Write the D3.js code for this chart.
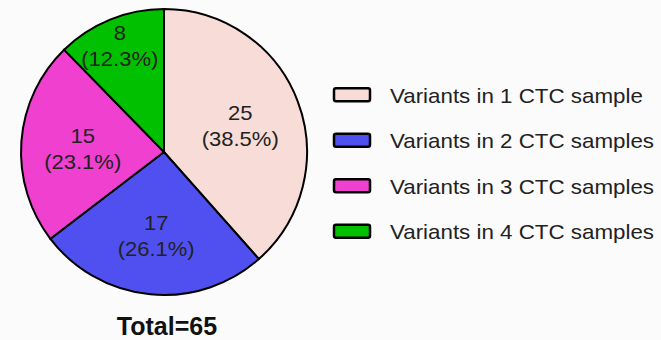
<!DOCTYPE html>
<meta charset="utf-8">
<style>
body {
  margin: 0;
  background: #fbfbfb;
  font-family: "Liberation Sans", Arial, sans-serif;
}
.slice {
  stroke: #000;
  stroke-width: 2px;
}
.plabel {
  font-size: 20px;
  fill: #222;
  text-anchor: middle;
}
.legtext {
  font-size: 20.5px;
  fill: #222;
}
.total {
  font-size: 25px;
  font-weight: bold;
  fill: #111;
  text-anchor: middle;
}
</style>
<body>
<div id="chart"></div>
<script src="https://d3js.org/d3.v7.min.js"></script>
<script>
// data
var categories = ["Variants in 1 CTC sample", "Variants in 2 CTC samples",
                  "Variants in 3 CTC samples", "Variants in 4 CTC samples"];
var counts = [25, 17, 15, 8];
var percents = ["38.5%", "26.1%", "23.1%", "12.3%"];
var colors = ["#f8dcd8", "#5050f0", "#f040d0", "#00c000"];
var totalLabel = "Total=65";

var width = 661, height = 340;
var cx = 164, cy = 152, radius = 143;

var svg = d3.select("#chart").append("svg")
    .attr("width", width)
    .attr("height", height);

var pie = d3.pie().sort(null).value(function(d) { return d; });
var arcs = pie(counts);
var arc = d3.arc().innerRadius(0).outerRadius(radius);

var g = svg.append("g")
    .attr("transform", "translate(" + cx + "," + cy + ")");

g.selectAll("path.slice")
    .data(arcs)
  .enter().append("path")
    .attr("class", "slice")
    .attr("fill", function(d, i) { return colors[i]; })
    .attr("d", arc);

// labels: small slices pushed further out
function labelPos(d) {
  var frac = (d.endAngle - d.startAngle) / (2 * Math.PI);
  var r = frac < 0.15 ? radius * 0.82 : radius * 0.57;
  var a = (d.startAngle + d.endAngle) / 2;
  return [Math.sin(a) * r, -Math.cos(a) * r];
}

var lab = g.selectAll("g.lab")
    .data(arcs)
  .enter().append("g")
    .attr("class", "lab")
    .attr("transform", function(d) {
      var p = labelPos(d);
      return "translate(" + p[0] + "," + (p[1] + 2) + ") scale(1.1,1)";
    });
lab.append("text")
    .attr("class", "plabel")
    .attr("y", -5)
    .text(function(d) { return d.data; });
lab.append("text")
    .attr("class", "plabel")
    .attr("y", 21)
    .text(function(d, i) { return "(" + percents[i] + ")"; });

svg.append("text")
    .attr("class", "total")
    .attr("x", cx + 3)
    .attr("y", 335)
    .text(totalLabel);

// legend
var ly = d3.scaleBand().domain(categories).range([72, 254]);

var leg = svg.selectAll("g.leg")
    .data(categories)
  .enter().append("g")
    .attr("class", "leg")
    .attr("transform", function(d) {
      return "translate(334," + (ly(d) + ly.bandwidth() / 2) + ")";
    });
leg.append("rect")
    .attr("x", 0)
    .attr("y", -6.5)
    .attr("width", 36)
    .attr("height", 13)
    .attr("rx", 2)
    .attr("fill", function(d, i) { return colors[i]; })
    .attr("stroke", "#000")
    .attr("stroke-width", 2.5);
leg.append("text")
    .attr("class", "legtext")
    .attr("transform", "translate(56,8) scale(1.09,1)")
    .text(function(d) { return d; });
</script>
</body>
